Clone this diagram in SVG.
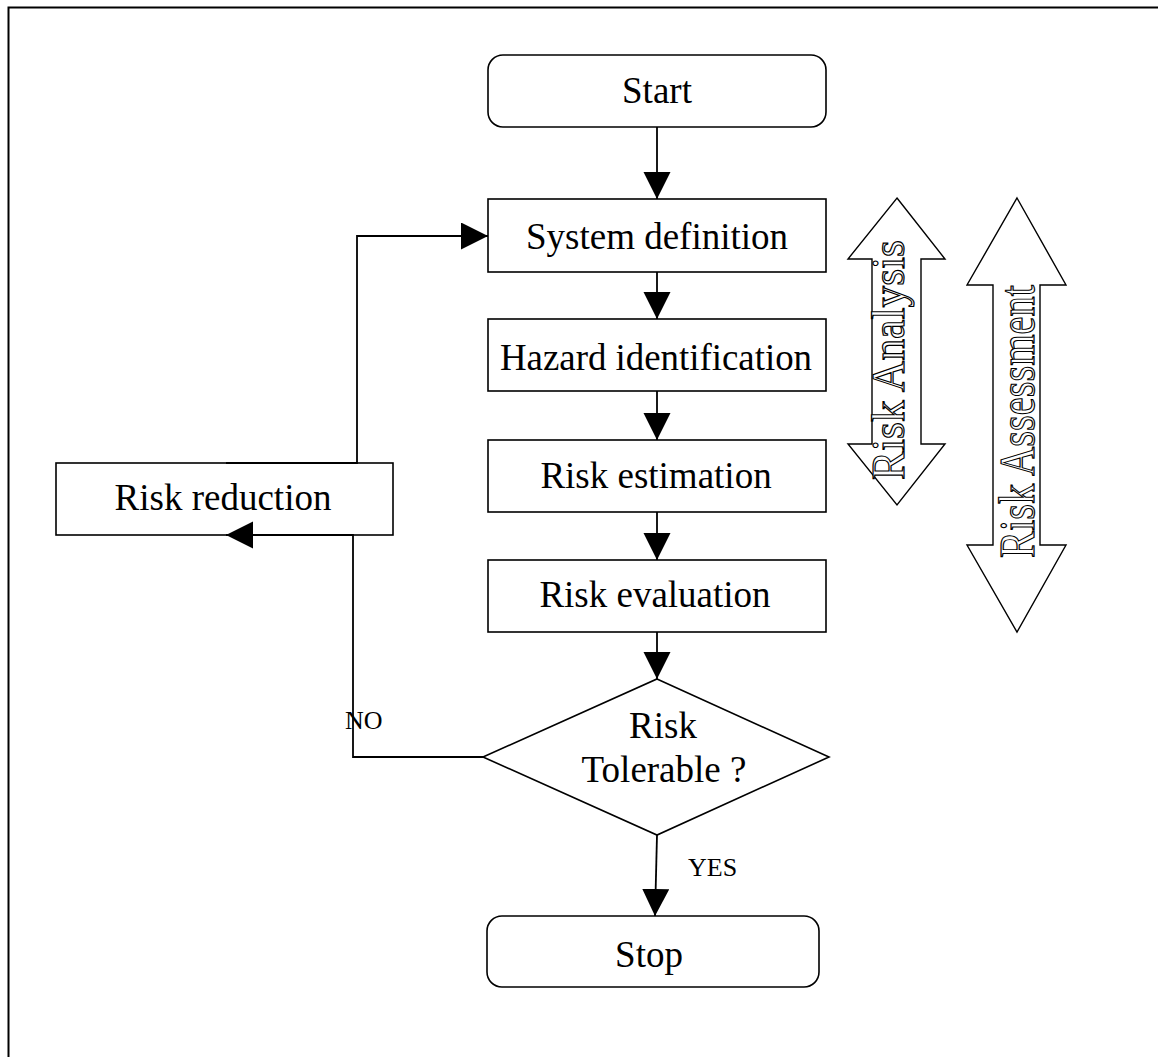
<svg xmlns="http://www.w3.org/2000/svg" width="1158" height="1057" viewBox="0 0 1158 1057">
<style>
.box{fill:#fff;stroke:#000;stroke-width:1.6}
.lbl{font-family:"Liberation Serif","Times New Roman",serif;font-size:37px;fill:#000;text-anchor:middle}
.small{font-family:"Liberation Serif","Times New Roman",serif;font-size:26px;fill:#000}
.conn{fill:none;stroke:#000;stroke-width:1.8}
.block{fill:#fff;stroke:#000;stroke-width:1.4}
.outline{font-family:"Liberation Serif","Times New Roman",serif;fill:#fff;stroke:#000;stroke-width:1.2}
</style>
<defs>
<marker id="ah" markerUnits="userSpaceOnUse" markerWidth="28" markerHeight="28" refX="27" refY="13.5" orient="auto">
<path d="M0,0 L27,13.5 L0,27 z" fill="#000"/>
</marker>
</defs>
<rect width="1158" height="1057" fill="#fff"/>
<path d="M8.5,1057 V7.5 H1158" fill="none" stroke="#000" stroke-width="2"/>

<g id="start"><rect class="box" x="488" y="55" width="338" height="72" rx="15"/><text class="lbl" x="657" y="103">Start</text></g>
<g id="sysdef"><rect class="box" x="488" y="199" width="338" height="73"/><text class="lbl" x="657" y="249">System definition</text></g>
<g id="hazard"><rect class="box" x="488" y="319" width="338" height="72"/><text class="lbl" x="656" y="370" textLength="312" lengthAdjust="spacingAndGlyphs">Hazard identification</text></g>
<g id="estimation"><rect class="box" x="488" y="440" width="338" height="72"/><text class="lbl" x="656" y="488">Risk estimation</text></g>
<g id="evaluation"><rect class="box" x="488" y="560" width="338" height="72"/><text class="lbl" x="655" y="607">Risk evaluation</text></g>
<g id="decision"><polygon class="box" points="657,679 829,757 657,835 483,757"/><text class="lbl" x="663" y="738">Risk</text><text class="lbl" x="664" y="782">Tolerable ?</text></g>
<g id="stop"><rect class="box" x="487" y="916" width="332" height="71" rx="15"/><text class="lbl" x="649" y="967">Stop</text></g>
<g id="reduction"><rect class="box" x="56" y="463" width="337" height="72"/><text class="lbl" x="223" y="510">Risk reduction</text></g>

<g id="riskAnalysis">
<polygon class="block" points="897,198 945,259 921,259 921,444 945,444 897,505 848,444 872,444 872,259 848,259"/>
<text class="outline" font-size="47" transform="translate(904,480) rotate(-90)" textLength="240" lengthAdjust="spacingAndGlyphs">Risk Analysis</text>
</g>
<g id="riskAssessment">
<polygon class="block" points="1017,198 1066,285 1040,285 1040,545 1066,545 1017,632 967,545 993,545 993,285 967,285"/>
<text class="outline" font-size="51" transform="translate(1034,558) rotate(-90)" textLength="273" lengthAdjust="spacingAndGlyphs">Risk Assessment</text>
</g>

<g id="connectors">
<line class="conn" x1="657" y1="127" x2="657" y2="199" marker-end="url(#ah)"/>
<line class="conn" x1="657" y1="272" x2="657" y2="319" marker-end="url(#ah)"/>
<line class="conn" x1="657" y1="391" x2="657" y2="440" marker-end="url(#ah)"/>
<line class="conn" x1="657" y1="512" x2="657" y2="560" marker-end="url(#ah)"/>
<line class="conn" x1="657" y1="632" x2="657" y2="679" marker-end="url(#ah)"/>
<line class="conn" x1="657" y1="835" x2="655" y2="916" marker-end="url(#ah)"/>
<path class="conn" d="M483,757 H353 V535 H226" marker-end="url(#ah)"/>
<path class="conn" d="M226,463 H357 V236 H488" marker-end="url(#ah)"/>
<text class="small" x="345" y="729">NO</text>
<text class="small" x="688" y="876">YES</text>
</g>
</svg>
